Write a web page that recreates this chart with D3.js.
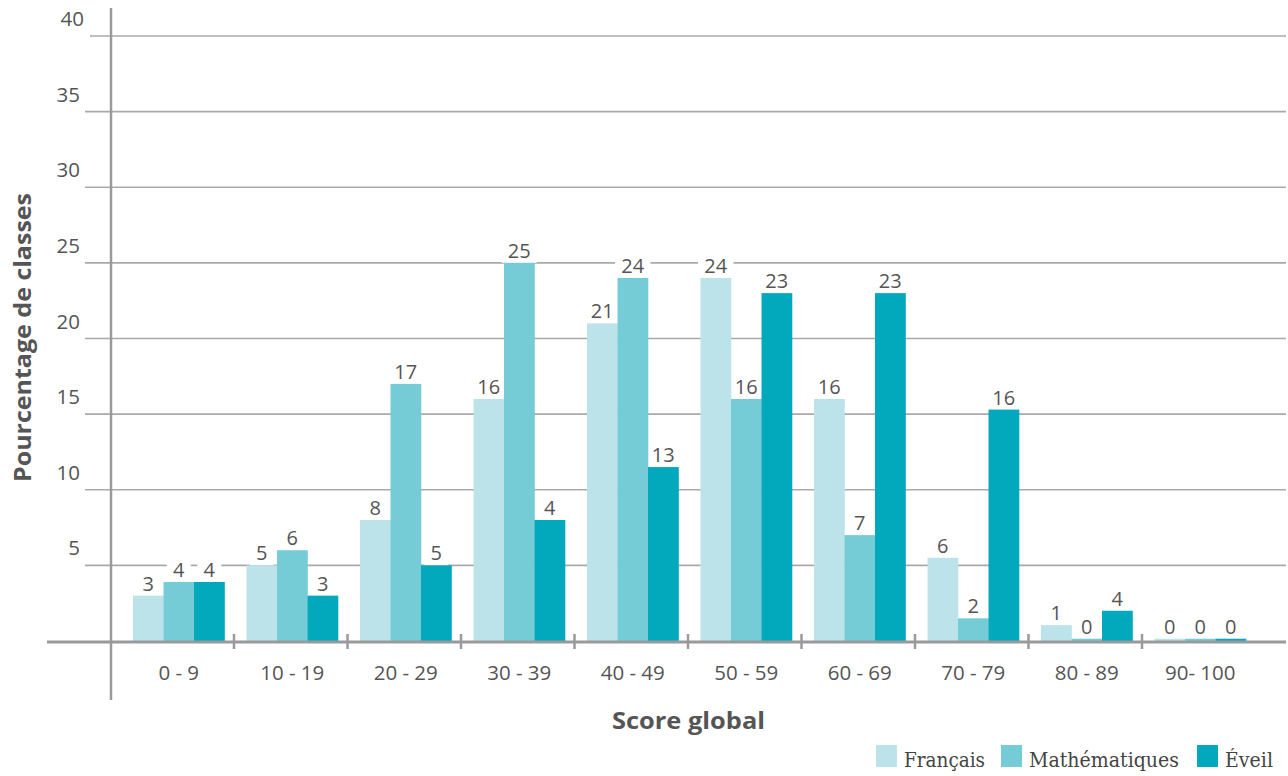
<!DOCTYPE html>
<html><head><meta charset="utf-8">
<script src="https://cdn.jsdelivr.net/npm/d3@7"></script>
<style>
body{margin:0;background:#fff;}
svg{display:block;}
</style></head>
<body>
<svg id="c" width="1288" height="776"></svg>
<script>
const categories = ["0 - 9","10 - 19","20 - 29","30 - 39","40 - 49","50 - 59","60 - 69","70 - 79","80 - 89","90- 100"];
const seriesNames = ["Français","Mathématiques","Éveil"];
const francais = [3, 5, 8, 16, 21, 24, 16, 5.5, 1.05, 0.15];
const maths    = [3.9, 6, 17, 25, 24, 16, 7, 1.5, 0.15, 0.15];
const eveil    = [3.9, 3, 5, 8, 11.5, 23, 23, 15.3, 2, 0.15];
const francaisLabels = [3, 5, 8, 16, 21, 24, 16, 6, 1, 0];
const mathsLabels    = [4, 6, 17, 25, 24, 16, 7, 2, 0, 0];
const eveilLabels    = [4, 3, 5, 4, 13, 23, 23, 16, 4, 0];
const yTicks = [5, 10, 15, 20, 25, 30, 35, 40];
const colors = ["#bde3ea", "#75ccd7", "#02a8bb"];

const seriesVals = [francais, maths, eveil];
const seriesLabs = [francaisLabels, mathsLabels, eveilLabels];

const svg = d3.select("#c");
const x = d3.scaleBand().domain(categories).range([120.5, 1255.5]);
const x1 = d3.scaleBand().domain(seriesNames).range([12.5, 104]);
const y = d3.scaleLinear().domain([0, 40]).range([641, 36]);

const textCol = "#555";
const sans = "'Open Sans', 'DejaVu Sans', sans-serif";

// gridlines
svg.append("g").selectAll("line").data(yTicks).join("line")
  .attr("x1", d => d === 40 ? 90 : 85).attr("x2", 1286)
  .attr("y1", d => y(d)).attr("y2", d => y(d))
  .attr("stroke", "#a9a9ab").attr("stroke-width", 1.6);

// y tick labels
svg.append("g").selectAll("text").data(yTicks).join("text")
  .attr("x", d => d === 40 ? 84 : 80).attr("y", d => y(d) - 10)
  .attr("text-anchor", "end")
  .attr("font-family", sans).attr("font-size", 20.5).attr("fill", textCol)
  .text(d => d);

const data = [];
categories.forEach((c, i) => seriesNames.forEach((s, j) => {
  data.push({cat: c, ser: s, j, v: seriesVals[j][i], lab: seriesLabs[j][i]});
}));

const boxG = svg.append("g");
const barG = svg.append("g");
const txtG = svg.append("g");

// bars
barG.selectAll("rect").data(data).join("rect")
  .attr("x", d => x(d.cat) + x1(d.ser))
  .attr("width", x1.bandwidth() + 0.3)
  .attr("y", d => y(d.v))
  .attr("height", d => y(0) - y(d.v))
  .attr("fill", d => colors[d.j]);

// labels with white boxes (boxes under bars, over gridlines)
data.forEach(d => {
  const cx = x(d.cat) + x1(d.ser) + x1.bandwidth() / 2;
  const top = y(d.v);
  const t = txtG.append("text")
    .attr("x", cx).attr("y", top - 5)
    .attr("text-anchor", "middle")
    .attr("font-family", sans).attr("font-size", 20).attr("fill", textCol)
    .text(d.lab);
  const bb = t.node().getBBox();
  const w = bb.width + 12;
  boxG.append("rect")
    .attr("x", cx - w / 2).attr("y", bb.y + 2)
    .attr("width", w).attr("height", Math.max(top - bb.y - 2, 0))
    .attr("fill", "#fff");
});

// x baseline
svg.append("line").attr("x1", 47).attr("x2", 1286)
  .attr("y1", y(0) + 1).attr("y2", y(0) + 1)
  .attr("stroke", "#9a9a9c").attr("stroke-width", 3);

// category ticks
svg.append("g").selectAll("line").data(categories.slice(1)).join("line")
  .attr("x1", d => x(d)).attr("x2", d => x(d))
  .attr("y1", 634).attr("y2", 649)
  .attr("stroke", "#9a9a9c").attr("stroke-width", 2.5);

// y axis line
svg.append("line").attr("x1", 111).attr("x2", 111)
  .attr("y1", 8).attr("y2", 700)
  .attr("stroke", "#9a9a9c").attr("stroke-width", 2.5);

// category labels
svg.append("g").selectAll("text").data(categories).join("text")
  .attr("x", d => x(d) + x.bandwidth() / 2 + 1.5).attr("y", 680)
  .attr("text-anchor", "middle")
  .attr("font-family", sans).attr("font-size", 20.5).attr("fill", textCol)
  .text(d => d);

// axis titles
svg.append("text").attr("x", 612).attr("y", 729)
  .attr("font-family", sans).attr("font-weight", "bold").attr("font-size", 23)
  .attr("textLength", 153).attr("lengthAdjust", "spacingAndGlyphs")
  .attr("fill", textCol).text("Score global");

svg.append("text")
  .attr("transform", "translate(31,482) rotate(-90)")
  .attr("font-family", sans).attr("font-weight", "bold").attr("font-size", 23)
  .attr("textLength", 289).attr("lengthAdjust", "spacingAndGlyphs")
  .attr("fill", textCol).text("Pourcentage de classes");

// legend
const legX = [876, 1001, 1197];
const legW = [81, 150, 48];
const lgd = svg.append("g");
seriesNames.forEach((s, j) => {
  lgd.append("rect").attr("x", legX[j]).attr("y", 745).attr("width", 21).attr("height", 22)
    .attr("fill", colors[j]);
  lgd.append("text").attr("x", legX[j] + 28).attr("y", 767)
    .attr("font-family", "'DejaVu Serif', 'Liberation Serif', serif")
    .attr("font-size", 21).attr("fill", "#444")
    .attr("textLength", legW[j]).attr("lengthAdjust", "spacingAndGlyphs")
    .text(s);
});
</script>
</body></html>
